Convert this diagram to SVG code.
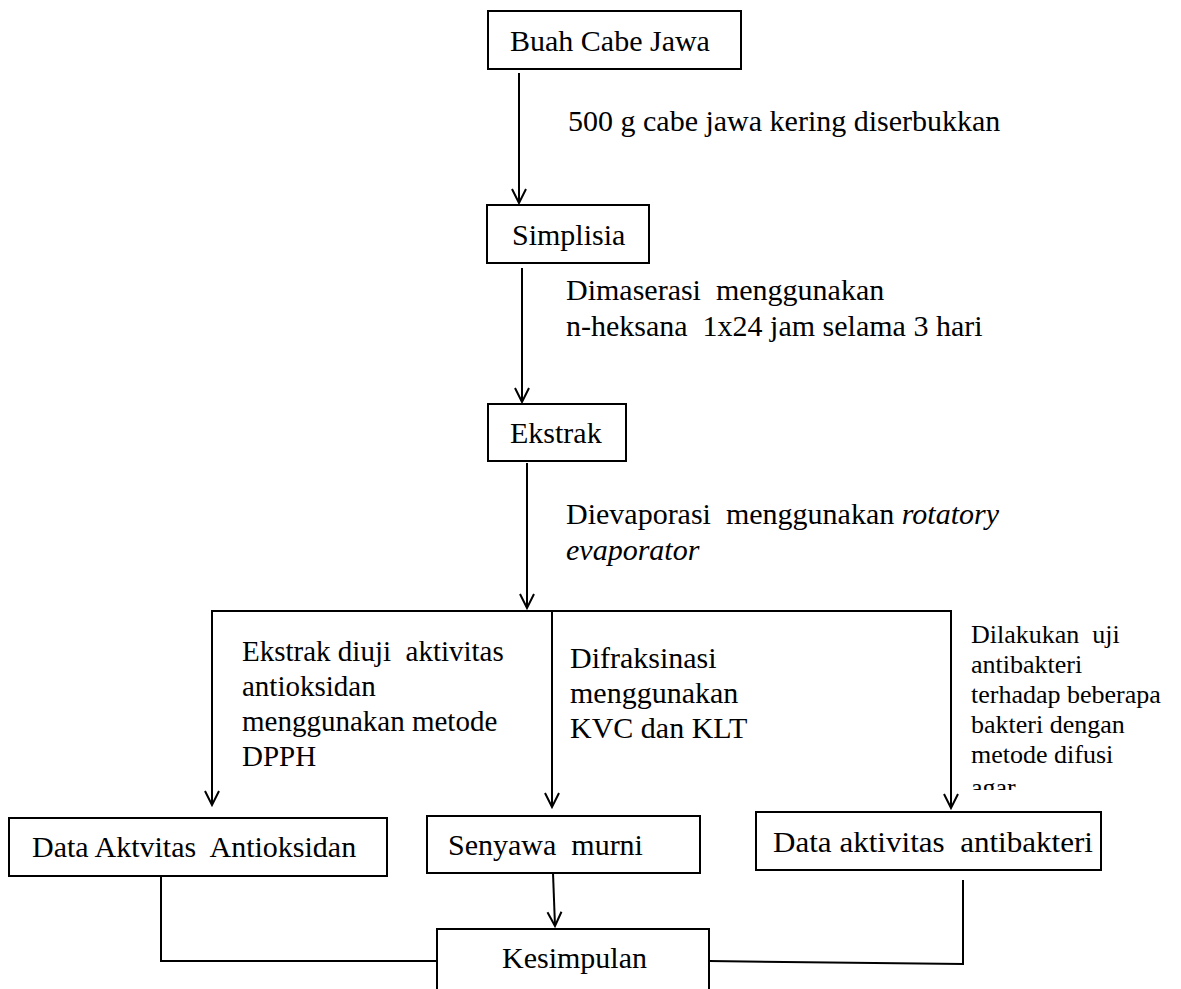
<svg xmlns="http://www.w3.org/2000/svg" width="1181" height="989" viewBox="0 0 1181 989">
<style>
  .box { fill: #fff; stroke: #000; stroke-width: 2; }
  .ln { fill: none; stroke: #000; stroke-width: 2; }
  .t { font-family: "Liberation Serif", "Times New Roman", Tinos, serif; font-size: 30px; fill: #000; white-space: pre; }
  .m { font-size: 29px; }
  .s { font-size: 26px; }
  .i { font-style: italic; }
</style>
<defs>
  <marker id="arr" viewBox="-16 -9 18 18" refX="0" refY="0" markerWidth="18" markerHeight="18" markerUnits="userSpaceOnUse" orient="auto">
    <path d="M-14,-7 L0,0 L-14,7" fill="none" stroke="#000" stroke-width="2"/>
  </marker>
  <clipPath id="clipAgar"><rect x="960" y="770" width="100" height="20"/></clipPath>
</defs>
<rect width="1181" height="989" fill="#fff"/>

<g id="connectors">
  <line class="ln" x1="519" y1="73" x2="519" y2="203" marker-end="url(#arr)"/>
  <line class="ln" x1="522" y1="268" x2="522" y2="402" marker-end="url(#arr)"/>
  <line class="ln" x1="527" y1="463" x2="527" y2="608" marker-end="url(#arr)"/>
  <line class="ln" x1="211" y1="611" x2="952" y2="611"/>
  <line class="ln" x1="212" y1="610" x2="212" y2="805" marker-end="url(#arr)"/>
  <line class="ln" x1="552" y1="610" x2="552" y2="807" marker-end="url(#arr)"/>
  <line class="ln" x1="951" y1="610" x2="951" y2="808" marker-end="url(#arr)"/>
  <line class="ln" x1="553" y1="873" x2="555" y2="926" marker-end="url(#arr)"/>
  <polyline class="ln" points="161,876 161,961 437,961"/>
  <polyline class="ln" points="963,880 963,964 709,961"/>
  <g id="labels">
    <text class="t" x="568" y="131">500 g cabe jawa kering diserbukkan</text>
    <text class="t" x="566" y="300">Dimaserasi  menggunakan</text>
    <text class="t" x="566" y="336">n-heksana  1x24 jam selama 3 hari</text>
    <text class="t" x="566" y="524">Dievaporasi  menggunakan <tspan class="i">rotatory</tspan></text>
    <text class="t i" x="566" y="560">evaporator</text>
    <text class="t m" x="242" y="661">Ekstrak diuji  aktivitas</text>
    <text class="t m" x="242" y="696">antioksidan</text>
    <text class="t m" x="242" y="731">menggunakan metode</text>
    <text class="t m" x="242" y="766">DPPH</text>
    <text class="t" x="570" y="668">Difraksinasi</text>
    <text class="t" x="570" y="703">menggunakan</text>
    <text class="t" x="570" y="738">KVC dan KLT</text>
    <text class="t s" x="971" y="643">Dilakukan  uji</text>
    <text class="t s" x="971" y="673">antibakteri</text>
    <text class="t s" x="971" y="703">terhadap beberapa</text>
    <text class="t s" x="971" y="733">bakteri dengan</text>
    <text class="t s" x="971" y="763">metode difusi</text>
    <text class="t s" x="971" y="796" clip-path="url(#clipAgar)">agar</text>
  </g>
</g>

<g id="node-buah">
  <rect class="box" x="488" y="11" width="253" height="58"/>
  <text class="t" x="510" y="51">Buah Cabe Jawa</text>
</g>
<g id="node-simplisia">
  <rect class="box" x="487" y="205" width="162" height="58"/>
  <text class="t" x="512" y="245">Simplisia</text>
</g>
<g id="node-ekstrak">
  <rect class="box" x="488" y="404" width="138" height="57"/>
  <text class="t" x="510" y="443">Ekstrak</text>
</g>
<g id="node-antioksidan">
  <rect class="box" x="9" y="818" width="378" height="58"/>
  <text class="t" x="32" y="857">Data Aktvitas  Antioksidan</text>
</g>
<g id="node-senyawa">
  <rect class="box" x="427" y="816" width="273" height="57"/>
  <text class="t" x="448" y="855">Senyawa  murni</text>
</g>
<g id="node-antibakteri">
  <rect class="box" x="756" y="812" width="345" height="58"/>
  <text class="t" x="773" y="852" textLength="320" lengthAdjust="spacingAndGlyphs">Data aktivitas  antibakteri</text>
</g>
<g id="node-kesimpulan">
  <rect class="box" x="437" y="929" width="272" height="80"/>
  <text class="t" x="502" y="968">Kesimpulan</text>
</g>
</svg>
